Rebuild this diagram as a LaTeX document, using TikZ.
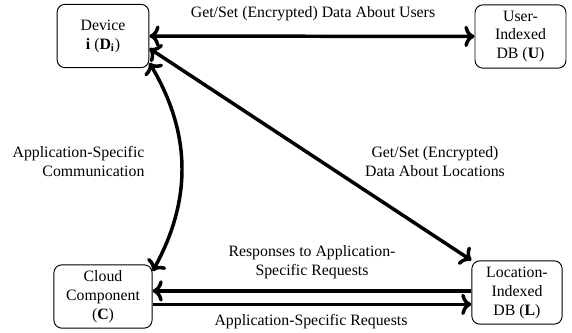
\documentclass[tikz,border=0pt]{standalone}
\usepackage{fontspec}
\setmainfont{Liberation Serif}
\usepackage{tikz}
\usetikzlibrary{arrows.meta,positioning,calc}

\begin{document}
\begin{tikzpicture}[
  x=0.632pt, y=-0.632pt,
  font=\fontsize{10}{12}\selectfont,
  ent/.style={draw, rounded corners=5pt, align=center, line width=0.6pt,
    minimum height=40pt},
  arr/.style={line width=2.2pt},
  lab/.style={align=center}
]
\useasboundingbox (0,0) rectangle (572,333);

\node[ent, minimum width=58pt] (dev) at (103,36) {Device\\\textbf{i} (\textbf{D}\textsubscript{\textbf{i}})};
\node[ent, minimum width=57.5pt] (udb) at (520.5,36.5) {User-\\Indexed\\DB (\textbf{U})};
\node[ent, minimum width=62pt] (cld) at (103,296.5) {Cloud\\Component\\(\textbf{C})};
\node[ent, minimum width=57pt] (ldb) at (517,292.5) {Location-\\Indexed\\DB (\textbf{L})};

\draw[arr, <->] (dev) -- (udb);
\draw[arr, <->] (dev.-15) -- (ldb.north west);
\draw[arr, <->] (dev.-30) to[bend left=30] (cld.27);
\draw[arr, ->] ([yshift=1pt]ldb.west) -- ([yshift=1pt]ldb.west -| cld.east);
\draw[arr, ->] ([yshift=-7.5pt]ldb.west -| cld.east) -- ([yshift=-7.5pt]ldb.west);

\node[lab] (lu) at (313,14) {Get/Set (Encrypted) Data About Users};
\node[lab, anchor=east, align=right] (lc) at (150,162) {Application-Specific\\Communication};
\node[lab] (ll) at (435,162) {Get/Set (Encrypted)\\Data About Locations};
\node[lab] (lr) at (312,262) {Responses to Application-\\Specific Requests};
\node[lab] (lq) at (311,322) {Application-Specific Requests};
\end{tikzpicture}
\end{document}
